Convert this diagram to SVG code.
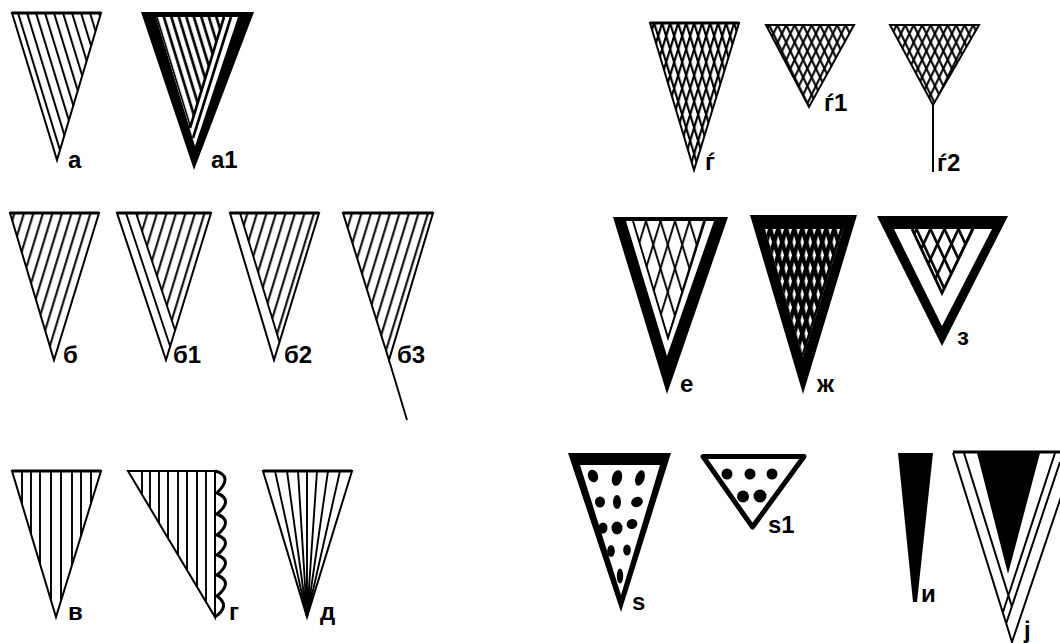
<svg xmlns="http://www.w3.org/2000/svg" width="1060" height="643" viewBox="0 0 1060 643">
<style>
.o{fill:none;stroke:#000;stroke-width:2;stroke-linejoin:miter}
.l{stroke:#000;stroke-width:1.9;fill:none}
.top{stroke:#000;stroke-width:3.2;fill:none}
.k{fill:#000}
.w{fill:#fff}
text{font-family:"Liberation Sans",Arial,sans-serif;font-weight:bold;font-size:24px;fill:#000}
</style>
<defs>
<pattern id="hr" width="9" height="40" patternUnits="userSpaceOnUse" patternTransform="translate(4 13) skewX(17)"><rect x="4" width="2.1" height="40" fill="#000"/></pattern>
<pattern id="hl" width="9.5" height="40" patternUnits="userSpaceOnUse" patternTransform="translate(0 213) skewX(-17)"><rect x="4" width="2.1" height="40" fill="#000"/></pattern>
<pattern id="hl3" width="9.5" height="40" patternUnits="userSpaceOnUse" patternTransform="translate(5 213) skewX(-17)"><rect x="4" width="2.1" height="40" fill="#000"/></pattern>
<pattern id="hrA" width="7.5" height="40" patternUnits="userSpaceOnUse" patternTransform="translate(2 17) skewX(17)"><rect x="3" width="2.8" height="40" fill="#000"/></pattern>
<pattern id="g1r" width="8" height="40" patternUnits="userSpaceOnUse" patternTransform="translate(2 23) skewX(17)"><rect x="3" width="2.3" height="40" fill="#000"/></pattern>
<pattern id="g1l" width="8" height="40" patternUnits="userSpaceOnUse" patternTransform="translate(2 23) skewX(-17)"><rect x="3" width="2.3" height="40" fill="#000"/></pattern>
<pattern id="g2r" width="8.5" height="40" patternUnits="userSpaceOnUse" patternTransform="translate(0 25) skewX(26)"><rect x="3" width="2.3" height="40" fill="#000"/></pattern>
<pattern id="g2l" width="8.5" height="40" patternUnits="userSpaceOnUse" patternTransform="translate(0 25) skewX(-26)"><rect x="3" width="2.3" height="40" fill="#000"/></pattern>
<pattern id="er" width="14.5" height="40" patternUnits="userSpaceOnUse" patternTransform="translate(4 221) skewX(17)"><rect x="3" width="2" height="40" fill="#000"/></pattern>
<pattern id="el" width="14.5" height="40" patternUnits="userSpaceOnUse" patternTransform="translate(4 221) skewX(-17)"><rect x="3" width="2" height="40" fill="#000"/></pattern>
<pattern id="zr" width="8" height="40" patternUnits="userSpaceOnUse" patternTransform="translate(5 229) skewX(17)"><rect x="3" width="4.4" height="40" fill="#000"/></pattern>
<pattern id="zl" width="8" height="40" patternUnits="userSpaceOnUse" patternTransform="translate(5 229) skewX(-17)"><rect x="3" width="4.4" height="40" fill="#000"/></pattern>
<pattern id="zzr" width="14" height="40" patternUnits="userSpaceOnUse" patternTransform="translate(2 229) skewX(25)"><rect x="3" width="2.9" height="40" fill="#000"/></pattern>
<pattern id="zzl" width="14" height="40" patternUnits="userSpaceOnUse" patternTransform="translate(2 229) skewX(-25)"><rect x="3" width="2.9" height="40" fill="#000"/></pattern>
</defs>
<rect width="1060" height="643" fill="#fff"/>
<g id="connectors"></g>

<g id="node-a">
<polygon points="12,13 101,13 57,160" fill="url(#hr)"/>
<polygon class="o" points="12,13 101,13 57,160"/><path class="top" d="M12 13H101"/>
<text x="68" y="168">а</text></g>

<g id="node-a1">
<polygon class="k" points="141,12 254,12 194,170"/>
<polygon class="w" points="156,17 238,17 195,146"/>
<polygon points="156,17 224,17 190,128" fill="url(#hrA)"/>
<path d="M224 17L190 128" stroke="#000" stroke-width="2.6" fill="none"/>
<path d="M231 17L193 138" stroke="#000" stroke-width="2.6" fill="none"/>
<text x="211" y="168">а1</text></g>

<g id="node-b">
<polygon points="10,213 99,213 54,360" fill="url(#hl)"/>
<polygon class="o" points="10,213 99,213 54,360"/><path class="top" d="M10 213H99"/>
<text x="63" y="363">б</text></g>

<g id="node-b1">
<polygon points="136,213 211,213 175,330" fill="url(#hl)"/>
<polygon class="o" points="117,213 211,213 166,360"/><path class="top" d="M117 213H211"/>
<path class="l" d="M126 213L170 346M136 213L175 330"/>
<text x="173" y="363">б1</text></g>

<g id="node-b2">
<polygon points="240,213 319,213 279.500,342" fill="url(#hl3)"/>
<polygon class="o" points="230,213 319,213 274,360"/><path class="top" d="M230 213H319"/>
<path class="l" d="M240 213L279.500 342"/>
<text x="284" y="363">б2</text></g>

<g id="node-b3">
<polygon points="343,213 433,213 389,360" fill="url(#hl3)"/>
<polygon class="o" points="343,213 433,213 389,360"/><path class="top" d="M343 213H433"/><path class="l" d="M389 360L407 420"/>
<text x="397" y="363">б3</text></g>

<g id="node-v">
<polygon class="o" points="12,471 101,471 56,617"/><path class="top" d="M12 471H101"/>
<path class="l" d="M22 471V504M31 471V534M40 471V564M51 471V600M61 471V601M72 471V565M81 471V536M91 471V503"/>
<text x="68" y="620">в</text></g>

<g id="node-g">
<polygon class="o" points="128,471 215,471 215,617"/>
<path class="l" d="M142 471V494M150 471V508M159 471V523M168 471V538M178 471V555M187 471V570M197 471V587M206 471V602"/>
<path fill="none" stroke="#000" stroke-width="3" d="M215 471Q234 476 217 493Q234 500 217 514Q234 521 217 535Q234 541 217 555Q234 561 217 575Q234 582 217 596Q231 606 215 617"/>
<text x="229" y="620">г</text></g>

<g id="node-d">
<polygon class="o" points="263,471 352,471 307,617"/><path class="top" d="M263 471H352"/>
<path class="l" d="M275 471L307 617M287 471L307 617M298 471L307 617M307 471V617M317 471L307 617M328 471L307 617M340 471L307 617"/>
<text x="320" y="620">д</text></g>

<g id="node-gj">
<polygon points="650,23 739,23 694,170" fill="url(#g1r)"/><polygon points="650,23 739,23 694,170" fill="url(#g1l)"/>
<polygon class="o" points="650,23 739,23 694,170"/><path class="top" d="M650 23H739"/>
<text x="705" y="170">ѓ</text></g>

<g id="node-gj1">
<polygon points="766,25 854,25 809,107" fill="url(#g2r)"/><polygon points="766,25 854,25 809,107" fill="url(#g2l)"/>
<polygon class="o" points="766,25 854,25 809,107"/>
<text x="824" y="111">ѓ1</text></g>

<g id="node-gj2">
<polygon points="890,25 979,25 933,105" fill="url(#g2r)"/><polygon points="890,25 979,25 933,105" fill="url(#g2l)"/>
<polygon class="o" points="890,25 979,25 933,105"/><path d="M933 105V172" stroke="#000" stroke-width="2" fill="none"/>
<text x="937" y="171">ѓ2</text></g>

<g id="node-e">
<polygon class="k" points="613,217 728,217 667,394"/>
<polygon class="w" points="626,221 714,221 667,356"/>
<polygon points="633,221 705,221 668,338" fill="url(#er)"/><polygon points="633,221 705,221 668,338" fill="url(#el)"/>
<path class="l" d="M633 221L668 338L705 221"/>
<text x="680" y="392">е</text></g>

<g id="node-zh">
<polygon class="k" points="750,215 857,215 803,394"/>
<polygon class="w" points="765,229 843,229 803,357"/>
<polygon points="765,229 843,229 803,357" fill="url(#zr)"/><polygon points="765,229 843,229 803,357" fill="url(#zl)"/>
<text x="817" y="392">ж</text></g>

<g id="node-z">
<polygon class="k" points="877,216 1008,216 942,346"/>
<polygon class="w" points="894,229 992,229 942,326"/>
<polygon points="912,229 973,229 942,293" fill="url(#zzr)"/><polygon points="912,229 973,229 942,293" fill="url(#zzl)"/>
<path d="M912 229L942 293L973 229" fill="none" stroke="#000" stroke-width="2.800"/>
<text x="957" y="345">з</text></g>

<g id="node-s">
<polygon class="k" points="568,453 671,453 621,612"/>
<polygon class="w" points="580,465 660,465 621,595"/>
<g class="k">
<ellipse cx="593" cy="476" rx="5" ry="6.500" transform="rotate(-20 593 476)"/>
<ellipse cx="617" cy="478" rx="5" ry="8" transform="rotate(15 617 478)"/>
<ellipse cx="640" cy="478" rx="4.500" ry="8" transform="rotate(18 640 478)"/>
<ellipse cx="600" cy="502" rx="5" ry="5.500"/>
<ellipse cx="617" cy="502" rx="4" ry="7"/>
<ellipse cx="637" cy="502" rx="6" ry="5" transform="rotate(-25 637 502)"/>
<ellipse cx="603" cy="528" rx="4.500" ry="5.500"/>
<ellipse cx="617" cy="528" rx="5.500" ry="6.500"/>
<ellipse cx="632" cy="524" rx="5.500" ry="5" transform="rotate(-25 632 524)"/>
<ellipse cx="611" cy="551" rx="3.800" ry="6"/>
<ellipse cx="627" cy="550" rx="3.800" ry="5.500"/>
<ellipse cx="620" cy="576" rx="3.200" ry="7.500"/>
</g>
<text x="632" y="610">ѕ</text></g>

<g id="node-s1">
<polygon points="703,456.500 804,456.500 752.500,527" fill="none" stroke="#000" stroke-width="5" stroke-linejoin="round"/>
<g class="k">
<circle cx="727" cy="474" r="5.500"/><circle cx="750" cy="474" r="5.500"/><circle cx="772" cy="474" r="5.500"/>
<circle cx="743" cy="496.500" r="6"/><circle cx="760" cy="496" r="6.500"/>
</g>
<text x="768" y="533">ѕ1</text></g>

<g id="node-i">
<polygon class="k" points="898,453 933,453 917,602 913,602"/>
<text x="921" y="602">и</text></g>

<g id="node-j">
<path class="top" d="M953 452H1060"/>
<path stroke="#000" stroke-width="2" fill="none" d="M953 453L1012 642L1064 488L1076 453M964 453L1012 607M1055 453L1003 612M1060 462L1006 624"/>
<polygon class="k" points="977,453 1040,453 1008,574"/>
<text x="1024" y="638">ј</text></g>
</svg>
